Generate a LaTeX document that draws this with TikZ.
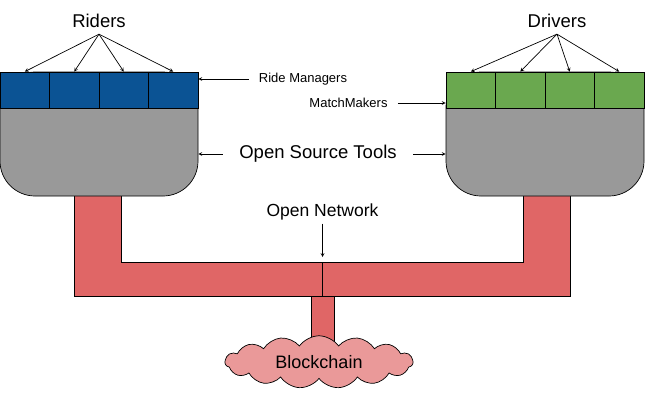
\documentclass[tikz,border=0pt]{standalone}
\usepackage{fontspec}
\setmainfont{Liberation Sans}
\usetikzlibrary{shapes.symbols, arrows}
\definecolor{riderblue}{HTML}{0B5394}
\definecolor{drivergreen}{HTML}{6AA84F}
\definecolor{toolgray}{HTML}{999999}
\definecolor{pipered}{HTML}{E06666}
\definecolor{cloudpink}{HTML}{EA9999}
\tikzstyle{biglabel} = [font=\fontsize{18.5}{22}\selectfont, inner sep=6pt]
\tikzstyle{netlabel} = [font=\fontsize{17.5}{21}\selectfont, inner sep=3pt]
\tikzstyle{smalllabel} = [font=\fontsize{13}{15}\selectfont, inner sep=2pt]
\tikzstyle{ridecell} = [rectangle, minimum width=49.5pt, minimum height=36pt, draw=black, fill=riderblue]
\tikzstyle{drivecell} = [rectangle, minimum width=49.5pt, minimum height=36pt, draw=black, fill=drivergreen]
\tikzstyle{toolbody} = [rectangle, rounded corners=35pt, minimum width=198pt, minimum height=124pt, draw=black, fill=toolgray]
\tikzstyle{pipe} = [draw=black, fill=pipered]
\tikzstyle{chaincloud} = [cloud, cloud puffs=15, cloud puff arc=110, aspect=3.4, minimum width=188pt, minimum height=52pt, draw=black, fill=cloudpink, font=\fontsize{18}{21}\selectfont]
\tikzstyle{arrow} = [->, >=stealth]

\begin{document}
\begin{tikzpicture}[x=1pt, y=-1pt, line width=0.7pt, node distance=49.5pt]
    \useasboundingbox (0,0) rectangle (663,407);
    % network under the two stacks
    \node [pipe, rectangle, minimum width=23pt, minimum height=50pt]	(stem)			at (322.5,321) {};
    \draw [pipe] (74,190) -- (74,296) -- (570,296) -- (570,190) -- (523,190) -- (523,262) -- (121,262) -- (121,190) -- cycle;
    \coordinate (netjoin) at (322.5,262);
    \draw (netjoin) -- (stem.north);
    \node [chaincloud]													(chain)			at (319,362) {Blockchain};

    \node [toolbody]													(ridetools)		at (99,134) {};
    \node [toolbody]													(drivetools)	at (545,134) {};
    \node [ridecell]													(r1)			at (24.75,90) {};
    \node [ridecell, right of=r1]										(r2)			{};
    \node [ridecell, right of=r2]										(r3)			{};
    \node [ridecell, right of=r3]										(r4)			{};
    \node [drivecell]													(d1)			at (470.75,90) {};
    \node [drivecell, right of=d1]										(d2)			{};
    \node [drivecell, right of=d2]										(d3)			{};
    \node [drivecell, right of=d3]										(d4)			{};

    \node [biglabel]													(riders)		at (99,21) {Riders};
    \node [biglabel]													(drivers)		at (557,21) {Drivers};
    \node [smalllabel]													(ridemgr)		at (303,79) {Ride Managers};
    \node [smalllabel]													(matchmk)		at (348.5,103) {MatchMakers};
    \node [biglabel]													(ostools)		at (318,154) {Open Source Tools};
    \node [netlabel]													(opennet)		at (322.5,212) {Open Network};

    \draw [arrow] (riders.south) -- (r1.north);
    \draw [arrow] (riders.south) -- (r2.north);
    \draw [arrow] (riders.south) -- (r3.north);
    \draw [arrow] (riders.south) -- (r4.north);
    \draw [arrow] (drivers.south) -- (d1.north);
    \draw [arrow] (drivers.south) -- (d2.north);
    \draw [arrow] (drivers.south) -- (d3.north);
    \draw [arrow] (drivers.south) -- (d4.north);
    \draw [arrow] (ridemgr.west) ++(-8,0) -- (ridemgr.west -| r4.east);
    \draw [arrow] (matchmk.east) ++(8,0) -- (matchmk.east -| d1.west);
    \draw [arrow] (ostools.west) ++(-10,0) -- (ostools.west -| ridetools.east);
    \draw [arrow] (ostools.east) ++(10,0) -- (ostools.east -| drivetools.west);
    \draw [arrow, shorten >=5pt] (opennet.south) -- (netjoin);
\end{tikzpicture}
\end{document}
